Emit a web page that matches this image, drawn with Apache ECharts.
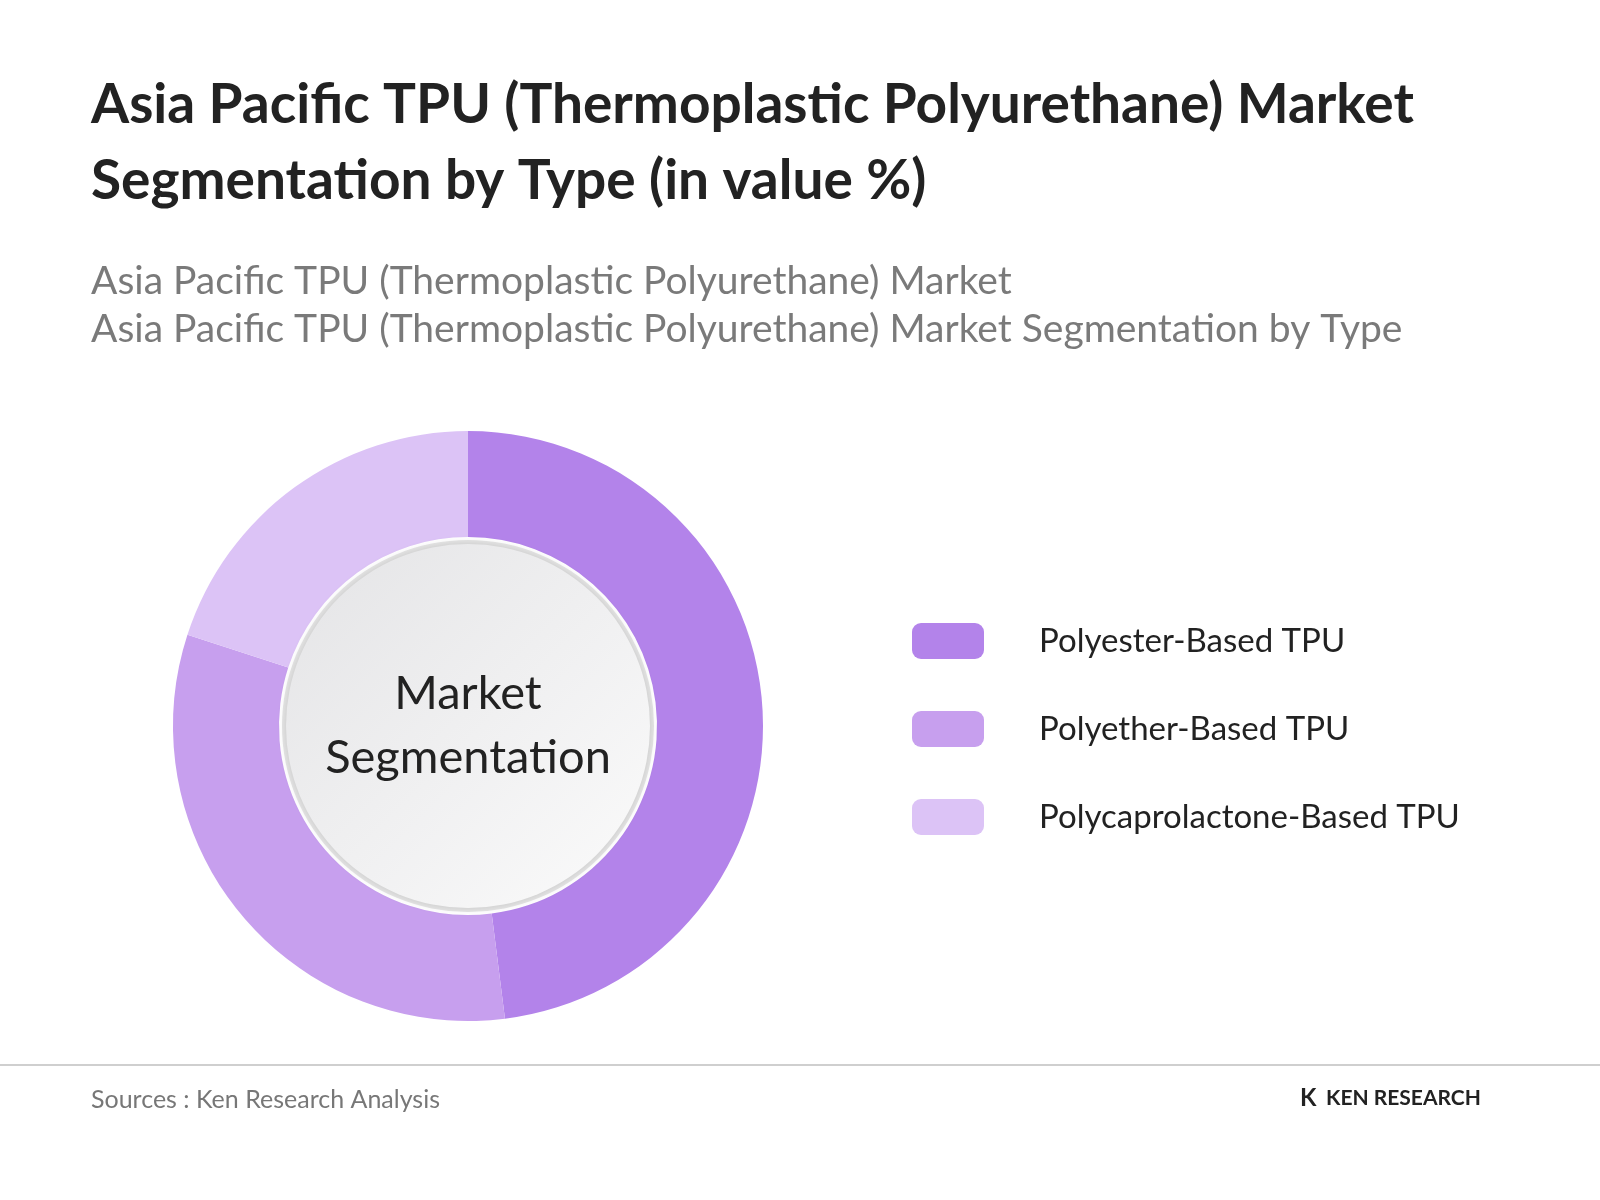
<!DOCTYPE html>
<html><head><meta charset="utf-8">
<script src="https://cdn.jsdelivr.net/npm/echarts@6/dist/echarts.min.js"></script>
<style>html,body{margin:0;background:#fff}#c{width:1600px;height:1200px}</style>
</head><body><div id="c"></div>
<script>
const categories = ["Polyester-Based TPU","Polyether-Based TPU","Polycaprolactone-Based TPU"];
const values = [48, 32, 20];
const colors = ["#B383EA","#C79FEE","#DCC3F6"];
const chart = echarts.init(document.getElementById('c'));
const F = 'Lato, "Open Sans", sans-serif';
chart.setOption({
  backgroundColor:'#fff',
  title:[
    {text:'Asia Pacific TPU (Thermoplastic Polyurethane) Market\nSegmentation by Type (in value %)',left:86,top:62,
     textStyle:{fontFamily:F,fontSize:55,fontWeight:'bold',color:'#222',lineHeight:76}},
    {text:'Asia Pacific TPU (Thermoplastic Polyurethane) Market\nAsia Pacific TPU (Thermoplastic Polyurethane) Market Segmentation by Type',left:86,top:252,
     textStyle:{fontFamily:F,fontSize:39,fontWeight:'normal',color:'#7a7a7a',lineHeight:48}},
    {text:'Sources : Ken Research Analysis',left:86,top:1082,textStyle:{fontFamily:F,fontSize:25,fontWeight:'normal',color:'#777'}}
  ],
  legend:{orient:'vertical',left:907,top:618,itemWidth:72,itemHeight:36,itemGap:52,icon:'roundRect',
    textStyle:{fontFamily:F,fontSize:33,color:'#222',padding:[0,0,0,50]},data:categories},
  series:[{type:'pie',center:[468,726],radius:[189,295],startAngle:90,clockwise:true,
    label:{show:false},labelLine:{show:false},silent:true,
    itemStyle:{borderWidth:0},
    data:categories.map((n,i)=>({name:n,value:values[i],itemStyle:{color:colors[i]}}))}],
  graphic:[
    {type:'circle',shape:{cx:468,cy:726,r:186},style:{fill:'#e6e6e6'},z:10},
    {type:'circle',shape:{cx:468,cy:726,r:182},z:11,
     style:{fill:new echarts.graphic.LinearGradient(0,0,1,1,[{offset:0,color:'#e4e4e6'},{offset:1,color:'#fbfbfb'}]),
       shadowBlur:8,shadowColor:'rgba(0,0,0,0.15)'}},
    {type:'text',x:468,y:726,z:12,style:{text:'Market\nSegmentation',align:'center',verticalAlign:'middle',
      font:'47px '+F,fill:'#222',lineHeight:64}},
    {type:'line',shape:{x1:0,y1:1065,x2:1600,y2:1065},style:{stroke:'#cfcfcf',lineWidth:2}},
    {type:'text',x:1300,y:1086,style:{text:'K',font:'bold 24px '+F,fill:'#222'}},
    {type:'text',x:1326,y:1088,style:{text:'KEN RESEARCH',font:'bold 21px '+F,fill:'#222'}}
  ]
});
</script></body></html>
